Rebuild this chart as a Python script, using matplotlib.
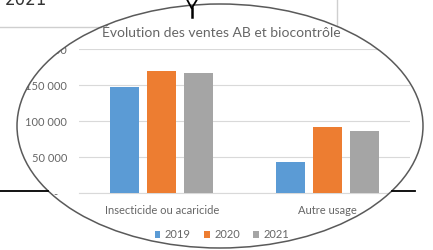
import numpy as np
import matplotlib
matplotlib.use("Agg")
import matplotlib.pyplot as plt
from matplotlib.patches import Ellipse, PathPatch, Patch
from matplotlib.path import Path

plt.rcParams['font.family'] = ['Lato', 'DejaVu Sans']

# ---- data ----
categories = ["Insecticide ou acaricide", "Autre usage"]
years = ["2019", "2020", "2021"]
v2019 = [148000, 43600]
v2020 = [170300, 92300]
v2021 = [166700, 86800]
yticks = [0, 50000, 100000, 150000, 200000]
ytick_labels = ["-   ", "50 000", "100 000", "150 000", "200 000"]
title = "Évolution des ventes AB et biocontrôle"
box_label = "2021"

colors = ["#5B9BD5", "#ED7D31", "#A5A5A5"]
W, H = 433, 250
fig = plt.figure(figsize=(W / 100, H / 100), dpi=100)
fig.patch.set_facecolor("white")

def fx(px):
    return px / W

def fy(py):
    return 1 - py / H

# ---- chart axes ----
ax = fig.add_axes([fx(79), fy(193), fx(410) - fx(79), fy(49.4) - fy(193)])
x = np.arange(len(categories))
bw = 0.175
step = 0.2236
series = [v2019, v2020, v2021]
for i, (vals, c, lab) in enumerate(zip(series, colors, years)):
    ax.bar(x + (i - 1) * step, vals, width=bw, color=c, label=lab, zorder=3)
ax.set_xlim(-0.5, 1.5)
ax.set_ylim(0, 200000)
ax.set_yticks(yticks)
ax.set_yticklabels(ytick_labels)
ax.set_xticks(x)
ax.set_xticklabels(categories)
ax.grid(axis="y", color="#d9d9d9", lw=0.8, zorder=0)
for s in ["top", "right", "left"]:
    ax.spines[s].set_visible(False)
ax.spines["bottom"].set_color("#d9d9d9")
ax.tick_params(axis="both", length=0, labelsize=8, colors="#666666")
ax.tick_params(axis="y", pad=8.5)
ax.tick_params(axis="x", pad=8.5)

fig.text(fx(221), fy(33), title, ha="center", va="center", fontsize=10, color="#666666")

handles = [Patch(facecolor=c, edgecolor="none", label=y) for c, y in zip(colors, years)]
fig.legend(handles=handles, loc="center", bbox_to_anchor=(fx(222), fy(235)), ncol=3,
           frameon=False, fontsize=8, handlelength=0.5, handleheight=0.5,
           handletextpad=0.4, columnspacing=1.2, labelcolor="#666666")

# ---- overlay (pixel coordinates) ----
ov = fig.add_axes([0, 0, 1, 1], zorder=10)
ov.set_xlim(0, W)
ov.set_ylim(H, 0)
ov.axis("off")
ov.patch.set_alpha(0)

cx, cy, a, b = 220, 126, 203, 122
t = np.linspace(0, 2 * np.pi, 400)
ex = cx + a * np.cos(t)
ey = cy + b * np.sin(t)
outer = np.array([[-5, -5], [W + 5, -5], [W + 5, H + 5], [-5, H + 5], [-5, -5]])
inner = np.column_stack([ex, ey])[::-1]
verts = np.vstack([outer, inner])
codes = ([Path.MOVETO] + [Path.LINETO] * 3 + [Path.CLOSEPOLY] +
         [Path.MOVETO] + [Path.LINETO] * (len(inner) - 2) + [Path.CLOSEPOLY])
ov.add_patch(PathPatch(Path(verts, codes), facecolor="white", edgecolor="none", zorder=1))

def ex_left(py):
    return cx - a * np.sqrt(max(0.0, 1 - ((py - cy) / b) ** 2))

def ex_right(py):
    return cx + a * np.sqrt(max(0.0, 1 - ((py - cy) / b) ** 2))

def ey_top(px):
    return cy - b * np.sqrt(max(0.0, 1 - ((px - cx) / a) ** 2))

# box at top-left
ov.plot([0, ex_left(27)], [27, 27], color="#cfcfcf", lw=1.0, zorder=2)
ov.plot([337, 337], [0, ey_top(337)], color="#cfcfcf", lw=1.0, zorder=2)
ov.text(5, 5, box_label, ha="left", va="baseline", fontsize=12, color="#333333", zorder=3,
        family=["DejaVu Sans"])

# ellipse outline
ov.add_patch(Ellipse((cx, cy), 2 * a, 2 * b, fill=False, edgecolor="#5a5a5a", lw=1.1, zorder=4))

# connector
ov.plot([187.3, 191.7, 196.7], [0, 8.3, 0], color="black", lw=1.3, zorder=5)
ov.plot([191.7, 191.7], [8.3, 17], color="black", lw=1.8, zorder=5)

# horizontal lines
ov.plot([0, ex_left(191)], [191, 191], color="black", lw=1.3, zorder=5)
ov.plot([ex_right(191), 415], [191, 191], color="black", lw=1.3, zorder=5)

fig.savefig("out.png", dpi=100, facecolor="white")
